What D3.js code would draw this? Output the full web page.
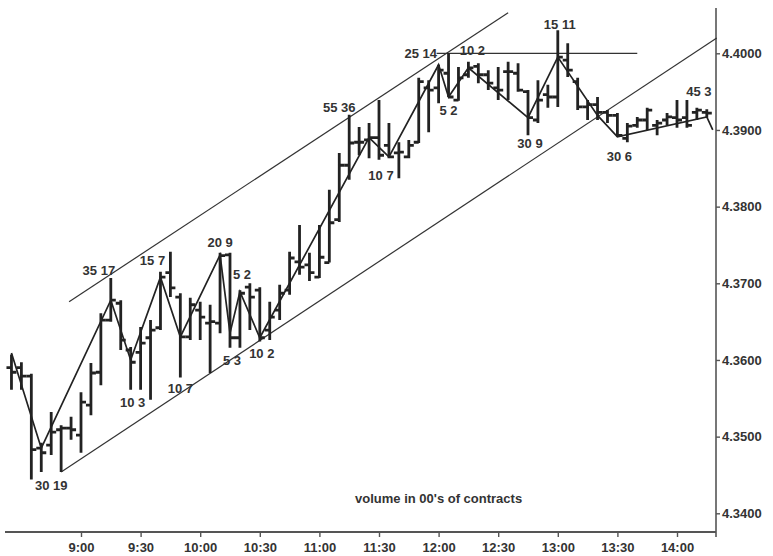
<!DOCTYPE html>
<html><head><meta charset="utf-8">
<script src="https://cdn.jsdelivr.net/npm/d3@7"></script>
<style>body{margin:0;background:#fff}svg{display:block}</style>
</head><body><svg id="c" width="773" height="556"></svg>
<script>
// ---- data ----
const barTime = ["8:25","8:30","8:35","8:40","8:45","8:50","8:55","9:00","9:05","9:10","9:15","9:20","9:25","9:30","9:35","9:40","9:45","9:50","9:55","10:00","10:05","10:10","10:15","10:20","10:25","10:30","10:35","10:40","10:45","10:50","10:55","11:00","11:05","11:10","11:15","11:20","11:25","11:30","11:35","11:40","11:45","11:50","11:55","12:00","12:05","12:10","12:15","12:20","12:25","12:30","12:35","12:40","12:45","12:50","12:55","13:00","13:05","13:10","13:15","13:20","13:25","13:30","13:35","13:40","13:45","13:50","13:55","14:00","14:05","14:10","14:15"];
const barOpen  = [4.3590,4.3590,4.3579,4.3485,4.3489,4.3509,4.3511,4.3502,4.3541,4.3584,4.3652,4.3674,4.3613,4.3610,4.3629,4.3642,4.3714,4.3682,4.3630,4.3665,4.3648,4.3648,4.3737,4.3629,4.3695,4.3691,4.3639,4.3665,4.3691,4.3728,4.3724,4.3708,4.3727,4.3783,4.3854,4.3884,4.3887,4.3890,4.3880,4.3870,4.3865,4.3884,4.3955,4.3955,4.3974,4.3939,4.3972,4.3983,4.3972,4.3955,4.3976,4.3974,4.3950,4.3913,4.3946,4.3943,4.3991,4.3963,4.3930,4.3933,4.3923,4.3919,4.3889,4.3906,4.3913,4.3906,4.3913,4.3916,4.3916,4.3923,4.3923];
const barHigh  = [4.3607,4.3597,4.3582,4.3492,4.3532,4.3515,4.3526,4.3558,4.3596,4.3661,4.3707,4.3678,4.3617,4.3643,4.3652,4.3715,4.3741,4.3687,4.3681,4.3676,4.3672,4.3740,4.3740,4.3691,4.3700,4.3695,4.3676,4.3698,4.3741,4.3776,4.3740,4.3776,4.3822,4.3870,4.3920,4.3904,4.3909,4.3939,4.3909,4.3884,4.3887,4.3968,4.3965,4.3985,4.4000,4.3982,4.3989,4.3987,4.3978,4.3982,4.3989,4.3987,4.3952,4.3965,4.3959,4.4030,4.4013,4.3968,4.3939,4.3943,4.3926,4.3922,4.3909,4.3917,4.3929,4.3913,4.3922,4.3939,4.3939,4.3929,4.3927];
const barLow   = [4.3561,4.3561,4.3444,4.3454,4.3476,4.3454,4.3496,4.3479,4.3528,4.3567,4.3650,4.3613,4.3561,4.3561,4.3548,4.3639,4.3682,4.3577,4.3626,4.3626,4.3583,4.3635,4.3616,4.3616,4.3639,4.3624,4.3626,4.3652,4.3685,4.3711,4.3703,4.3707,4.3727,4.3780,4.3835,4.3867,4.3863,4.3861,4.3863,4.3837,4.3863,4.3883,4.3897,4.3935,4.3943,4.3938,4.3968,4.3961,4.3952,4.3939,4.3939,4.3950,4.3893,4.3909,4.3929,4.3930,4.3969,4.3926,4.3913,4.3913,4.3909,4.3891,4.3884,4.3903,4.3900,4.3893,4.3906,4.3903,4.3903,4.3913,4.3916];
const barClose = [4.3584,4.3579,4.3483,4.3479,4.3506,4.3511,4.3509,4.3545,4.3583,4.3652,4.3678,4.3626,4.3597,4.3622,4.3639,4.3708,4.3694,4.3630,4.3672,4.3656,4.3650,4.3736,4.3629,4.3687,4.3682,4.3629,4.3656,4.3687,4.3733,4.3721,4.3714,4.3734,4.3779,4.3854,4.3883,4.3884,4.3890,4.3867,4.3865,4.3871,4.3880,4.3963,4.3952,4.3978,4.3943,4.3968,4.3981,4.3972,4.3961,4.3952,4.3976,4.3952,4.3916,4.3939,4.3943,4.3995,4.3978,4.3930,4.3933,4.3923,4.3919,4.3893,4.3905,4.3913,4.3926,4.3909,4.3917,4.3913,4.3906,4.3926,4.3922];

// swing line (closes of swing bars)
const swingTime  = ["8:25","8:40","9:15","9:25","9:40","9:50","10:10","10:15","10:20","10:30","11:25","11:35","12:00","12:05","12:15","12:45","13:00","13:20","13:30","14:15","14:18"];
const swingPrice = [4.3609,4.3485,4.3678,4.3600,4.3708,4.3630,4.3737,4.3635,4.3689,4.3629,4.3890,4.3865,4.3985,4.3943,4.3981,4.3916,4.3995,4.3919,4.3891,4.3917,4.3900];

// volume annotations (00's of contracts)
const noteText  = ["30 19","35 17","10 3","15 7","10 7","20 9","5 2","5 3","10 2","55 36","10 7","25 14","10 2","5 2","30 9","15 11","30 6","45 3"];
const noteTime  = ["8:45","9:09","9:26","9:36","9:50","10:10","10:21","10:16","10:31","11:10","11:31","11:51","12:17","12:05","12:46","13:01","13:31","14:11"];
const notePrice = [4.3436,4.3717,4.3544,4.3730,4.3563,4.3753,4.3711,4.3600,4.3609,4.3929,4.3841,4.4000,4.4004,4.3926,4.3883,4.4037,4.3865,4.3950];

// trend / channel lines
const upperTime = ["8:54","12:35"],  upperPrice = [4.3676, 4.4053];
const lowerTime = ["8:50","14:20"],  lowerPrice = [4.3454, 4.4020];
const resistTime = ["11:59","13:40"], resistPrice = [4.4000, 4.4000];

const yTicks = [4.34, 4.35, 4.36, 4.37, 4.38, 4.39, 4.40];
const xTicks = ["9:00","9:30","10:00","10:30","11:00","11:30","12:00","12:30","13:00","13:30","14:00"];
const caption = "volume in 00's of contracts";

// ---- drawing ----
const toMin = s => { const p = s.split(":").map(Number); return p[0]*60 + p[1]; };
const fmtMin = m => Math.floor(m/60) + ":" + String(m%60).padStart(2,"0");
const svg = d3.select("#c");
const FONT = "'Liberation Sans', Arial, sans-serif";
const INK = "#222";

const x = d3.scaleLinear().domain([540, 840]).range([81, 677]);
const y = d3.scaleLinear().domain([4.34, 4.40]).range([513.3, 53.3]);

// axes
svg.append("line").attr("x1", 716).attr("x2", 716).attr("y1", 8).attr("y2", 537)
  .attr("stroke", "#555").attr("stroke-width", 1.6);
svg.append("line").attr("x1", 5).attr("x2", 716).attr("y1", 532).attr("y2", 532)
  .attr("stroke", "#555").attr("stroke-width", 2);

const yAxis = svg.append("g").attr("transform", "translate(716,0)")
  .call(d3.axisRight(y).tickValues(yTicks).tickFormat(d3.format(".4f")).tickSize(4).tickPadding(2));
yAxis.select(".domain").remove();
yAxis.selectAll("line").attr("stroke", "#555").attr("stroke-width", 1.4);
yAxis.selectAll("text").attr("font-family", FONT).attr("font-size", 13).attr("font-weight", "bold").attr("fill", "#333");

const xAxis = svg.append("g").attr("transform", "translate(0,532)")
  .call(d3.axisBottom(x).tickValues(xTicks.map(toMin)).tickFormat(fmtMin).tickSize(5).tickPadding(6));
xAxis.select(".domain").remove();
xAxis.selectAll("line").attr("stroke", "#555").attr("stroke-width", 1.4);
xAxis.selectAll("text").attr("font-family", FONT).attr("font-size", 13).attr("font-weight", "bold").attr("fill", "#333");

// channel & resistance lines
const seg = (ts, ps) => d3.line()(ts.map((t, i) => [x(toMin(t)), y(ps[i])]));
[[upperTime, upperPrice], [lowerTime, lowerPrice], [resistTime, resistPrice]].forEach(([t, p]) => {
  svg.append("path").attr("d", seg(t, p)).attr("fill", "none").attr("stroke", "#333").attr("stroke-width", 1.2);
});

// OHLC bars
const bars = svg.append("g").attr("stroke", INK).attr("stroke-width", 2.8).attr("fill", "none");
barTime.forEach((t, i) => {
  const cx = x(toMin(t));
  bars.append("path").attr("d",
    `M${cx},${y(barHigh[i])}V${y(barLow[i])}` +
    `M${cx - 5},${y(barOpen[i])}H${cx}` +
    `M${cx},${y(barClose[i])}H${cx + 5}`);
});

// swing line
svg.append("path").attr("d", seg(swingTime, swingPrice)).attr("fill", "none")
  .attr("stroke", INK).attr("stroke-width", 1.7).attr("stroke-linejoin", "miter");

// annotations
svg.append("g").selectAll("text").data(noteText).join("text")
  .attr("x", (d, i) => x(toMin(noteTime[i])))
  .attr("y", (d, i) => y(notePrice[i]))
  .attr("dy", "0.35em").attr("text-anchor", "middle")
  .attr("font-family", FONT).attr("font-size", 13).attr("font-weight", "bold").attr("fill", "#333")
  .text(d => d);

svg.append("text").attr("x", x(toMin("12:00"))).attr("y", 498).attr("dy", "0.35em")
  .attr("text-anchor", "middle").attr("font-family", FONT).attr("font-size", 13)
  .attr("font-weight", "bold").attr("fill", "#333").text(caption);
</script>
</body></html>
